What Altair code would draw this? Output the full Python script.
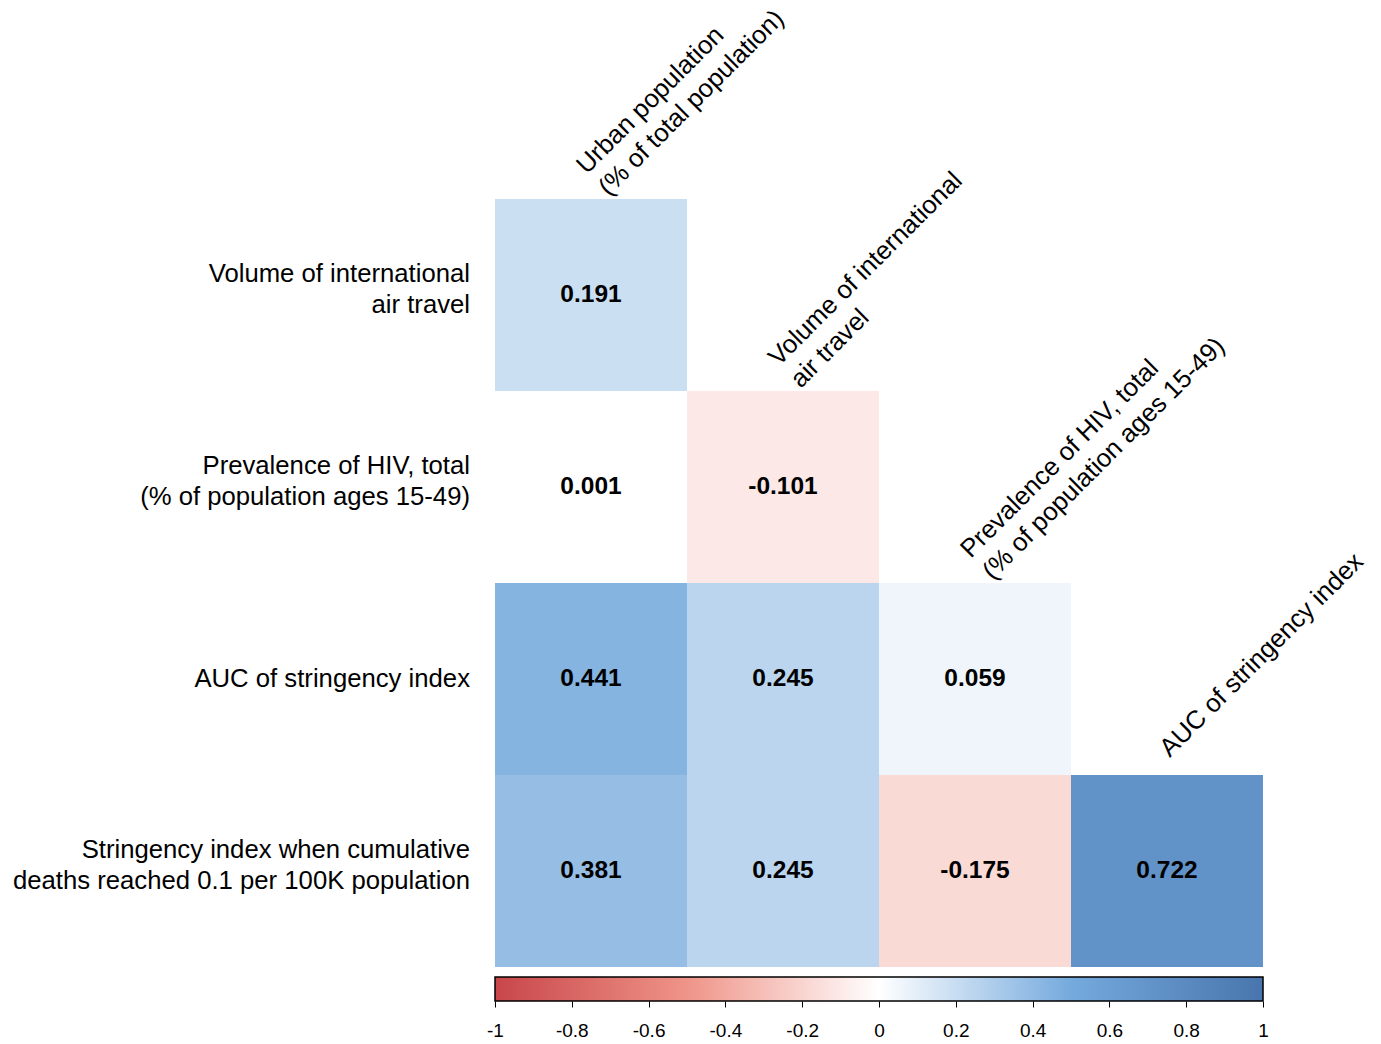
import altair as alt
import pandas as pd

FONT = "Liberation Sans"

col_labels = [
    "Urban population\n(% of total population)",
    "Volume of international\nair travel",
    "Prevalence of HIV, total\n(% of population ages 15-49)",
    "AUC of stringency index",
]
row_labels = [
    "Volume of international\nair travel",
    "Prevalence of HIV, total\n(% of population ages 15-49)",
    "AUC of stringency index",
    "Stringency index when cumulative\ndeaths reached 0.1 per 100K population",
]
# lower-triangle correlation values, row by row
corr_row0 = [0.191]
corr_row1 = [0.001, -0.101]
corr_row2 = [0.441, 0.245, 0.059]
corr_row3 = [0.381, 0.245, -0.175, 0.722]
corr_rows = [corr_row0, corr_row1, corr_row2, corr_row3]

color_domain = [-1, -0.5, 0, 0.5, 1]
color_range = ["#c8464a", "#ef9488", "#ffffff", "#75aadd", "#4875ad"]
tick_values = [-1, -0.8, -0.6, -0.4, -0.2, 0, 0.2, 0.4, 0.6, 0.8, 1]

records = []
for i, vals in enumerate(corr_rows):
    for j, v in enumerate(vals):
        records.append({"row": row_labels[i], "col": col_labels[j], "r": v, "txt": f"{v:.3f}"})
df = pd.DataFrame(records)


def split_lines(labels, rows_for):
    out = []
    for lab, rw in zip(labels, rows_for):
        parts = lab.split("\n")
        if len(parts) == 1:
            out.append({"col": lab, "row": rw, "line": parts[0], "kind": "single"})
        else:
            out.append({"col": lab, "row": rw, "line": parts[0], "kind": "first"})
            out.append({"col": lab, "row": rw, "line": parts[1], "kind": "second"})
    return pd.DataFrame(out)


col_lines = split_lines(col_labels, row_labels)
row_lines = split_lines(row_labels, row_labels)
row_lines["col"] = col_labels[0]

xscale = alt.Scale(domain=col_labels, paddingInner=0, paddingOuter=0)
yscale = alt.Scale(domain=row_labels, paddingInner=0, paddingOuter=0)
cscale = alt.Scale(domain=color_domain, range=color_range, interpolate="rgb")

rect = alt.Chart(df).mark_rect().encode(
    x=alt.X("col:N", scale=xscale, axis=None),
    y=alt.Y("row:N", scale=yscale, axis=None),
    color=alt.Color("r:Q", scale=cscale, legend=None),
)
nums = alt.Chart(df).mark_text(font=FONT, fontSize=24.5, fontWeight="bold", color="black").encode(
    x=alt.X("col:N", scale=xscale, axis=None),
    y=alt.Y("row:N", scale=yscale, axis=None),
    text="txt:N",
)

col_dy = {"first": -28, "second": 3, "single": -18}
col_layers = []
for kind, dy in col_dy.items():
    col_layers.append(
        alt.Chart(col_lines).transform_filter(alt.datum.kind == kind).mark_text(
            font=FONT, fontSize=25.7, color="black", angle=315, align="left",
            baseline="middle", dx=14, dy=dy,
        ).encode(
            x=alt.X("col:N", scale=xscale, axis=None),
            y=alt.Y("row:N", scale=yscale, axis=None, bandPosition=0),
            text="line:N",
        )
    )

row_dy = {"first": -21.5, "second": 9.5, "single": 0}
row_layers = []
for kind, dy in row_dy.items():
    row_layers.append(
        alt.Chart(row_lines).transform_filter(alt.datum.kind == kind).mark_text(
            font=FONT, fontSize=25.7, color="black", align="right",
            baseline="middle", dx=-25, dy=dy,
        ).encode(
            x=alt.X("col:N", scale=xscale, axis=None, bandPosition=0),
            y=alt.Y("row:N", scale=yscale, axis=None),
            text="line:N",
        )
    )

heat = alt.layer(rect, nums, *col_layers, *row_layers).properties(width=768, height=768)

cb_df = pd.DataFrame({"lo": [color_domain[0]], "hi": [color_domain[-1]]})
grad = {
    "gradient": "linear", "x1": 0, "y1": 0, "x2": 1, "y2": 0,
    "stops": [{"offset": (d + 1) / 2, "color": c} for d, c in zip(color_domain, color_range)],
}
cb = alt.Chart(cb_df).mark_rect(fill=grad, stroke="black", strokeWidth=1.5).encode(
    x=alt.X(
        "lo:Q",
        scale=alt.Scale(domain=[-1, 1], nice=False, zero=False),
        axis=alt.Axis(
            values=tick_values, title=None, domain=False, grid=False,
            tickColor="black", tickSize=6, tickWidth=1,
            labelFontSize=19, labelFont=FONT, labelColor="black", labelPadding=14,
            labelFlush=False, labelOverlap=False,
            labelExpr="datum.value < 0 ? '-' + format(-datum.value, '') : format(datum.value, '')",
        ),
    ),
    x2="hi:Q",
).properties(width=768, height=24)

chart = (
    alt.vconcat(heat, cb, spacing=10, bounds="flush")
    .configure_view(stroke=None)
    .properties(background="white", padding={"left": 4, "right": 5, "top": -3, "bottom": 5})
)

chart.save("out.html", embed_options={"renderer": "svg", "actions": False})
